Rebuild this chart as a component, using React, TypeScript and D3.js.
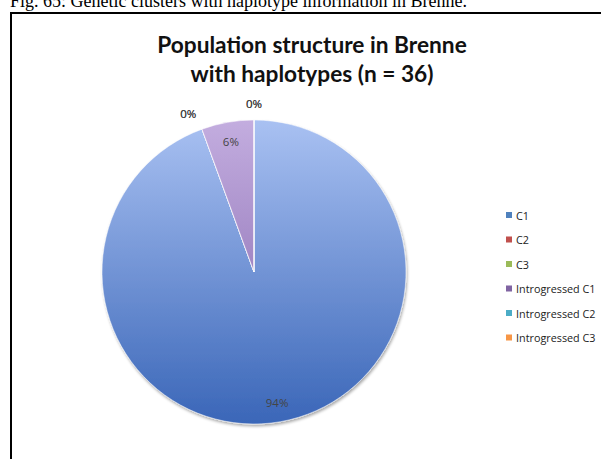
import React from "react";
import * as d3 from "d3";

const categories = ["C1", "C2", "C3", "Introgressed C1", "Introgressed C2", "Introgressed C3"];
const counts = [34, 0, 0, 2, 0, 0];
const percentLabels = ["94%", "0%", "0%", "6%", "0%", "0%"];
const legendColors = ["#4f81bd", "#c0504d", "#9bbb59", "#8064a2", "#4bacc6", "#f79646"];
const gradTop = ["#a9c1f2", "#e39a98", "#cfe3a6", "#c3addf", "#9fd9ea", "#fbc89c"];
const gradBottom = ["#3a66b8", "#a8403d", "#7f9e44", "#7d5ea8", "#3592ab", "#d77c2f"];
const titleLines = ["Population structure in Brenne", "with haplotypes (n = 36)"];
const caption = "Fig. 65: Genetic clusters with haplotype information in Brenne.";

export default function App() {
  const W = 601, H = 459;
  const cx = 254, cy = 272, R = 152;
  const pie = d3.pie<number>().sort(null).value((d) => d)(counts);
  const arc = d3.arc<d3.PieArcDatum<number>>().innerRadius(0).outerRadius(R);
  const labelR = (d: d3.PieArcDatum<number>) => (d.value === 0 ? 169 : 133);
  const titleFont = "Lato, 'Open Sans', sans-serif";
  const font = "'Open Sans', Lato, sans-serif";
  return (
    <svg width={W} height={H} style={{ position: "absolute", left: 0, top: 0 }}>
      <defs>
        {categories.map((c, i) => (
          <linearGradient key={c} id={`g${i}`} gradientUnits="userSpaceOnUse" x1={0} y1={-R} x2={0} y2={R}>
            <stop offset="0%" stopColor={gradTop[i]} />
            <stop offset="100%" stopColor={gradBottom[i]} />
          </linearGradient>
        ))}
        <filter id="shadow" x="-20%" y="-20%" width="140%" height="140%">
          <feGaussianBlur in="SourceAlpha" stdDeviation="1.5" />
          <feOffset dx="1" dy="2" result="b" />
          <feComponentTransfer><feFuncA type="linear" slope="0.35" /></feComponentTransfer>
          <feMerge><feMergeNode /><feMergeNode in="SourceGraphic" /></feMerge>
        </filter>
      </defs>
      <rect width={W} height={H} fill="#fff" />
      <text x={10} y={7} fontFamily="'Liberation Serif', serif" fontSize={18} fill="#000">{caption}</text>
      <rect x={11} y={13} width={W + 10} height={H + 10} fill="none" stroke="#000" strokeWidth={2} />
      {titleLines.map((t, i) => (
        <text key={t} x={312} y={53 + i * 29} textAnchor="middle" fontFamily={titleFont} fontWeight="bold" fontSize={22.7} fill="#111">{t}</text>
      ))}
      <g transform={`translate(${cx},${cy})`} filter="url(#shadow)">
        {pie.map((d, i) => (
          <path key={categories[i]} d={arc(d) || ""} fill={`url(#g${i})`} stroke="#fff" strokeWidth={0.5} />
        ))}
      </g>
      <g transform={`translate(${cx},${cy})`}>
        {pie.map((d, i) => {
          const a = (d.startAngle + d.endAngle) / 2;
          const r = labelR(d);
          return (
            <text key={categories[i]} x={Math.sin(a) * r - (d.value === 0 && a > Math.PI && a < 2 * Math.PI - 0.01 ? 8 : 0)} y={-Math.cos(a) * r} textAnchor="middle" dominantBaseline="central" fontFamily={font} fontSize={11.5} fill="#444">{percentLabels[i]}</text>
          );
        })}
      </g>
      {categories.map((c, i) => (
        <g key={c} transform={`translate(506,${215 + i * 24.5})`}>
          <rect x={0} y={-3} width={6} height={6} fill={legendColors[i]} />
          <text x={10} y={0} dominantBaseline="central" fontFamily={font} fontSize={10.8} fill="#222">{c}</text>
        </g>
      ))}
    </svg>
  );
}
